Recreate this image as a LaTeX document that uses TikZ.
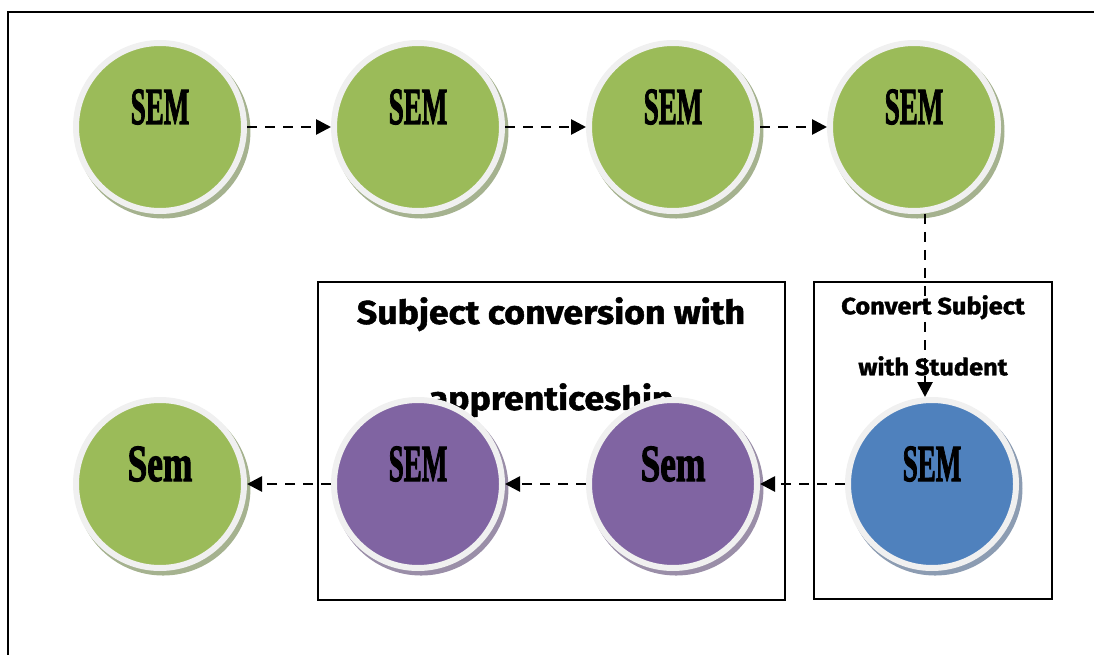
\documentclass[tikz,border=0pt]{standalone}
\usepackage{fontspec}
\usetikzlibrary{arrows.meta,shadows}
\newfontfamily\semfont[BoldFeatures={FakeBold=2.5}]{Liberation Serif}
\newfontfamily\boxfont[BoldFeatures={FakeBold=1.5,FakeStretch=1.08}]{Fira Sans}
\definecolor{semgreen}{HTML}{9BBB59}
\definecolor{sempurple}{HTML}{8064A2}
\definecolor{semblue}{HTML}{4F81BD}
\definecolor{semring}{HTML}{F0F0F0}
\definecolor{greenshade}{HTML}{A5B28F}
\definecolor{purpleshade}{HTML}{9A8EA8}
\definecolor{blueshade}{HTML}{8C9CB2}
\newcommand{\semtext}[2][0.52]{\raisebox{3pt}[0pt][0pt]{\scalebox{#1}[1]{#2}}}
\begin{document}
\begin{tikzpicture}[x=1pt,y=1pt,
    sem/.style={circle, minimum size=168pt, inner sep=0pt, draw=semring, line width=6pt,
      font=\semfont\bfseries\fontsize{52}{60}\selectfont},
    greensem/.style={sem, fill=semgreen, drop shadow={shadow xshift=3pt, shadow yshift=-4pt, shadow scale=1.04, fill=greenshade, opacity=1}},
    purplesem/.style={sem, fill=sempurple, drop shadow={shadow xshift=3pt, shadow yshift=-4pt, shadow scale=1.04, fill=purpleshade, opacity=1}},
    bluesem/.style={sem, fill=semblue, drop shadow={shadow xshift=3pt, shadow yshift=-4pt, shadow scale=1.04, fill=blueshade, opacity=1}},
    flow/.style={dash pattern=on 10pt off 8pt, line width=2.7pt, -{Triangle[length=15pt,width=15pt]}},
    boxtext/.style={align=center, inner sep=0pt}]
    \useasboundingbox (0,0) rectangle (1094,654);
    \clip (0,0) rectangle (1094,654);
    \draw [line width=1.5pt] (8,-20) rectangle (1120,642);
    \draw [line width=2pt] (318,54) rectangle (785,372);
    \draw [line width=2pt] (814,55) rectangle (1052,372);
    \node [boxtext, anchor=north, font=\boxfont\bfseries\fontsize{33}{86}\selectfont] (conv) at (551,357) {Subject conversion with\\apprenticeship};
    \node [boxtext, anchor=north, font=\boxfont\bfseries\fontsize{23.5}{61}\selectfont] (student) at (933,359) {Convert Subject\\with Student};
    \node [greensem] (s1) at (160,527) {\semtext{SEM}};
    \node [greensem] (s2) at (418,527) {\semtext{SEM}};
    \node [greensem] (s3) at (673,527) {\semtext{SEM}};
    \node [greensem] (s4) at (914,527) {\semtext{SEM}};
    \node [greensem] (s5) at (160,170) {\semtext[0.68]{Sem}};
    \node [purplesem] (s6) at (418,170) {\semtext{SEM}};
    \node [purplesem] (s7) at (673,170) {\semtext[0.68]{Sem}};
    \node [bluesem] (s8) at (932,170) {\semtext{SEM}};
    \draw [flow] (s1) -- (s2);
    \draw [flow] (s2) -- (s3);
    \draw [flow] (s3) -- (s4);
    \draw [flow] ([xshift=11pt]s4.south) -- ([xshift=-7pt]s8.north);
    \draw [flow] (s8) -- (s7);
    \draw [flow] (s7) -- (s6);
    \draw [flow] (s6) -- (s5);
  \end{tikzpicture}
\end{document}
